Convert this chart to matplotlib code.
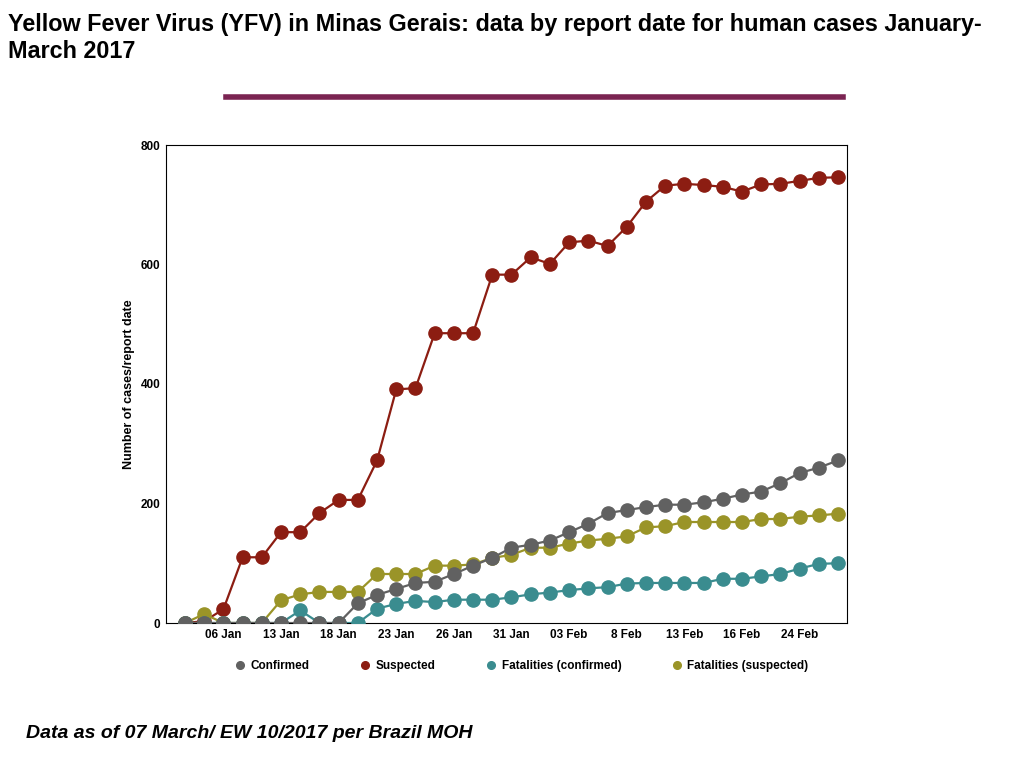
import matplotlib
matplotlib.use("Agg")
import matplotlib.pyplot as plt
from matplotlib.lines import Line2D

matplotlib.rcParams["font.family"] = ["Liberation Sans", "DejaVu Sans"]

tick_labels = ["06 Jan", "13 Jan", "18 Jan", "23 Jan", "26 Jan", "31 Jan",
               "03 Feb", "8 Feb", "13 Feb", "16 Feb", "24 Feb"]
suspected = [0, 3, 23, 110, 110, 152, 152, 184, 206, 206, 272, 391, 393, 485, 485,
             485, 583, 583, 612, 601, 637, 640, 631, 663, 705, 732, 735, 733, 730,
             722, 734, 735, 740, 745, 746]
confirmed = [0, 0, 0, 0, 0, 0, 0, 0, 0, 33, 47, 57, 67, 69, 82, 96, 109, 126, 131,
             138, 152, 166, 184, 189, 194, 198, 198, 202, 208, 215, 220, 234, 251,
             260, 272]
fat_susp = [0, 15, 0, 0, 0, 38, 48, 52, 52, 52, 82, 82, 82, 96, 96, 98, 109, 114,
            126, 126, 133, 138, 141, 145, 160, 162, 169, 169, 169, 169, 174, 174,
            178, 180, 183]
fat_conf = [0, 0, 0, 0, 0, 0, 21, 0, 0, 0, 24, 32, 37, 35, 39, 39, 39, 43, 48, 51,
            55, 58, 60, 66, 67, 67, 67, 67, 74, 74, 78, 82, 91, 99, 100]

C_CONF = "#616161"
C_SUSP = "#8C1D12"
C_FCONF = "#3A8C8F"
C_FSUSP = "#9A9428"

fig = plt.figure(figsize=(10.24, 7.68), dpi=100)
ax = fig.add_axes([166 / 1024, 1 - 623 / 768, (847 - 166) / 1024, (623 - 145) / 768])

x = list(range(len(suspected)))
kw = dict(marker="o", markersize=9.5, lw=1.6)
ax.plot(x, suspected, color=C_SUSP, zorder=2, **kw)
ax.plot(x, fat_susp, color=C_FSUSP, zorder=3, **kw)
ax.plot(x, fat_conf, color=C_FCONF, zorder=4, **kw)
ax.plot(x, confirmed, color=C_CONF, zorder=5, **kw)

ax.set_xlim(-0.99, 34.47)
ax.set_ylim(0, 800)
ax.set_xticks(range(2, 35, 3))
ax.set_xticklabels(tick_labels)
ax.set_yticks([0, 200, 400, 600, 800])
ax.tick_params(length=0, labelsize=8.5, pad=4)
for t in ax.get_xticklabels() + ax.get_yticklabels():
    t.set_fontweight("bold")
ax.set_ylabel("Number of cases/report date", fontsize=9, fontweight="bold")

handles = [Line2D([], [], color=c, marker="o", lw=0, markersize=5.5)
           for c in (C_CONF, C_SUSP, C_FCONF, C_FSUSP)]
labels = ["Confirmed", "Suspected", "Fatalities (confirmed)", "Fatalities (suspected)"]
leg = fig.legend(handles, labels, loc="center", bbox_to_anchor=(520 / 1024, 1 - 666 / 768),
                 ncol=4, frameon=False, handletextpad=0.1, columnspacing=4.0,
                 handlelength=1.5, prop={"size": 8.5, "weight": "bold"})

fig.text(8 / 1024, 1 - 38 / 768,
         "Yellow Fever Virus (YFV) in Minas Gerais: data by report date for human cases January-\nMarch 2017",
         fontsize=16.8, fontweight="bold", va="center", ha="left", linespacing=1.2)
fig.add_artist(Line2D([226 / 1024, 843 / 1024], [1 - 97 / 768] * 2, color="#7B2452", lw=4))
fig.text(26 / 1024, 1 - 733 / 768, "Data as of 07 March/ EW 10/2017 per Brazil MOH",
         fontsize=14, fontweight="bold", style="italic", va="center")

fig.savefig("out.png", dpi=100)
